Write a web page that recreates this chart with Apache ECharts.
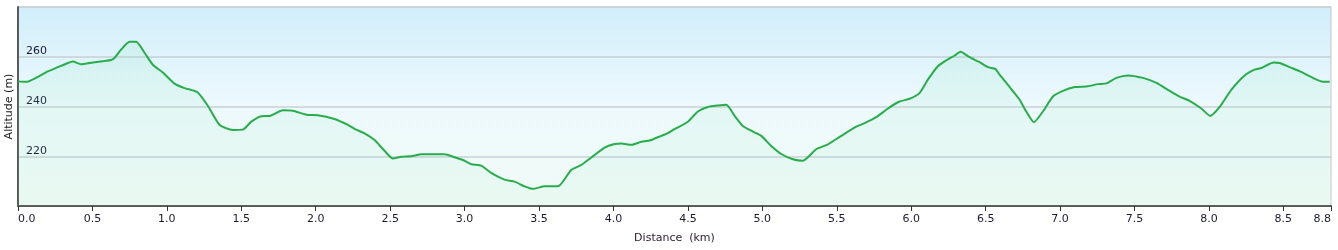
<!DOCTYPE html>
<html>
<head>
<meta charset="utf-8">
<script src="https://cdn.jsdelivr.net/npm/echarts@6/dist/echarts.min.js"></script>
<style>
html,body{margin:0;padding:0;background:#fff;}
#c{width:1338px;height:250px;}
</style>
</head>
<body>
<div id="c"></div>
<script>
// distance in km
const distance = [0, 0.055, 0.133, 0.2, 0.267, 0.335, 0.368, 0.424, 0.503, 0.581, 0.626, 0.648, 0.693, 0.749, 0.794, 0.85, 0.906, 0.973, 1.051, 1.119, 1.204, 1.275, 1.354, 1.443, 1.51, 1.567, 1.634, 1.69, 1.779, 1.846, 1.947, 2.014, 2.126, 2.216, 2.261, 2.328, 2.395, 2.462, 2.518, 2.574, 2.641, 2.709, 2.865, 2.933, 2.988, 3.045, 3.112, 3.179, 3.268, 3.336, 3.403, 3.459, 3.537, 3.627, 3.716, 3.784, 3.851, 3.94, 4.007, 4.052, 4.12, 4.187, 4.243, 4.321, 4.366, 4.41, 4.5, 4.567, 4.634, 4.701, 4.758, 4.814, 4.869, 4.937, 4.993, 5.06, 5.127, 5.205, 5.272, 5.362, 5.441, 5.53, 5.631, 5.687, 5.765, 5.844, 5.922, 5.989, 6.056, 6.112, 6.179, 6.236, 6.292, 6.332, 6.392, 6.46, 6.515, 6.565, 6.594, 6.639, 6.672, 6.728, 6.773, 6.824, 6.885, 6.952, 7.019, 7.098, 7.187, 7.254, 7.311, 7.378, 7.456, 7.557, 7.647, 7.725, 7.803, 7.87, 7.949, 8.009, 8.072, 8.15, 8.24, 8.307, 8.352, 8.435, 8.475, 8.542, 8.609, 8.699, 8.766, 8.811];
// altitude in m
const altitude = [250.1, 249.9, 251.9, 254.1, 255.8, 257.5, 258.1, 257.0, 257.7, 258.3, 258.7, 259.5, 262.9, 266.0, 266.0, 261.6, 256.8, 253.7, 249.2, 247.4, 245.8, 240.3, 232.6, 230.6, 230.7, 233.9, 236.1, 236.2, 238.5, 238.3, 236.6, 236.5, 235.0, 232.6, 231.0, 229.2, 226.5, 222.2, 219.1, 219.8, 220.0, 220.8, 220.8, 219.6, 218.5, 216.8, 216.2, 213.3, 210.6, 209.8, 207.9, 206.9, 207.9, 207.9, 214.5, 216.5, 219.5, 223.5, 224.9, 225.1, 224.6, 225.8, 226.3, 228.2, 229.3, 230.9, 233.9, 238.0, 239.8, 240.4, 240.7, 236.2, 232.2, 229.9, 228.2, 224.1, 220.9, 218.8, 218.2, 222.8, 224.8, 228.2, 231.9, 233.3, 235.7, 239.2, 242.0, 243.1, 245.4, 250.8, 256.2, 258.6, 260.5, 262.0, 259.8, 257.8, 255.8, 255.1, 252.8, 249.5, 247.0, 242.7, 238.0, 233.7, 238.0, 244.0, 246.3, 247.8, 248.1, 249.0, 249.3, 251.5, 252.5, 251.5, 249.5, 246.7, 244.0, 242.3, 239.2, 236.2, 239.8, 246.7, 252.5, 254.8, 255.5, 257.7, 257.5, 255.8, 254.2, 251.5, 250.0, 250.0];
const yTickLabels = [220, 240, 260];
const xAxisName = 'Distance  (km)';
const yAxisName = 'Altitude (m)';

const chart = echarts.init(document.getElementById('c'), null, {renderer: 'canvas'});
const font = 'Verdana, "DejaVu Sans", sans-serif';
chart.setOption({
  animation: false,
  grid: {
    left: 18, right: 7, top: 7, bottom: 44,
    containLabel: false,
    outerBoundsMode: 'none',
    show: true,
    borderColor: '#c4c4c4',
    borderWidth: 1,
    backgroundColor: new echarts.graphic.LinearGradient(0, 0, 0, 1, [
      {offset: 0, color: '#d0eefa'},
      {offset: 0.5, color: '#eef9fd'},
      {offset: 1, color: '#f0fbf6'}
    ])
  },
  xAxis: {
    type: 'value',
    min: 0, max: 8.82, interval: 0.5,
    name: xAxisName,
    nameLocation: 'middle',
    nameGap: 27,
    nameMoveOverlap: false,
    nameTextStyle: {fontFamily: font, fontSize: 11, color: '#2a1a2a'},
    axisLine: {show: true, onZero: false, lineStyle: {color: '#5a5a5a', width: 2}},
    axisTick: {show: true, length: 5, lineStyle: {color: '#333', width: 1}},
    axisLabel: {
      fontFamily: font, fontSize: 11, color: '#1a1a33', margin: 8,
      alignMinLabel: 'left', alignMaxLabel: 'right',
      formatter: v => v.toFixed(1)
    },
    splitLine: {show: false}
  },
  yAxis: {
    type: 'value',
    min: 200, max: 280, interval: 20,
    name: yAxisName,
    nameLocation: 'middle',
    nameRotate: 90,
    nameGap: 3,
    nameMoveOverlap: false,
    nameTextStyle: {fontFamily: font, fontSize: 11, color: '#1a1a1a'},
    axisLine: {show: true, lineStyle: {color: '#5a5a5a', width: 2}},
    axisTick: {show: false},
    axisLabel: {
      inside: true, margin: 8, verticalAlign: 'bottom',
      fontFamily: font, fontSize: 11, color: '#1a1a33',
      formatter: v => (yTickLabels.indexOf(v) >= 0 ? String(v) : '')
    },
    splitLine: {show: true, lineStyle: {color: '#c9d1d6', width: 1.5}}
  },
  series: [{
    type: 'line',
    data: distance.map((d, i) => [d, altitude[i]]),
    showSymbol: false,
    smooth: 0.2,
    lineStyle: {color: '#27ad4a', width: 2},
    areaStyle: {
      color: new echarts.graphic.LinearGradient(0, 0, 0, 1, [
        {offset: 0, color: 'rgba(120,225,170,0.18)'},
        {offset: 1, color: 'rgba(120,225,170,0.08)'}
      ])
    }
  }]
});
</script>
</body>
</html>
